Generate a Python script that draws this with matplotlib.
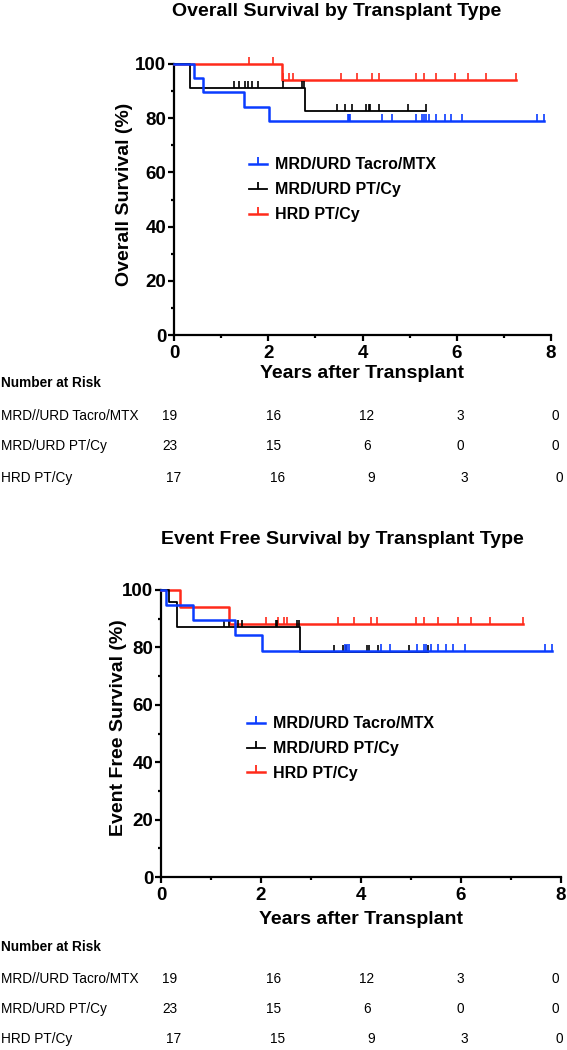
import matplotlib
matplotlib.use("Agg")
import matplotlib.pyplot as plt
from matplotlib.lines import Line2D
from matplotlib.ticker import MultipleLocator
import numpy as np

plt.rcParams['font.family'] = ['Liberation Sans', 'DejaVu Sans']

# ---- data (years, % surviving) ----
groups = ['MRD/URD Tacro/MTX', 'MRD/URD PT/Cy', 'HRD PT/Cy']
risk_labels = ['MRD//URD Tacro/MTX', 'MRD/URD PT/Cy', 'HRD PT/Cy']
colors = ['#0a3cff', '#000000', '#ff2a1a']
risk_times = [0, 2, 4, 6, 8]

# overall survival
os_times = [
    [0, 0.43, 0.61, 1.49, 2.02],
    [0, 0.33, 2.78],
    [0, 2.29],
]
os_surv = [
    [100, 94.7, 89.5, 84.2, 78.9],
    [100, 91.3, 82.6],
    [100, 94.1],
]
os_end = [7.86, 5.35, 7.26]
os_censor = [
    [3.70, 3.72, 3.74, 4.42, 4.62, 5.14, 5.26, 5.30, 5.35, 5.42, 5.56, 5.75, 5.87, 6.11, 7.71, 7.86],
    [1.27, 1.37, 1.51, 1.58, 1.66, 1.78, 2.31, 2.71, 2.76,
     3.46, 3.63, 3.77, 4.08, 4.13, 4.16, 4.35, 4.97, 5.35],
    [1.60, 2.10, 2.32, 2.43, 2.53, 3.55, 3.88, 4.21, 4.34, 5.14, 5.30, 5.56, 5.96, 6.23, 6.62, 7.26],
]
os_risk = [
    [19, 16, 12, 3, 0],
    [23, 15, 6, 0, 0],
    [17, 16, 9, 3, 0],
]

# event free survival
efs_times = [
    [0, 0.10, 0.63, 1.49, 2.03],
    [0, 0.16, 0.31, 2.78],
    [0, 0.37, 1.35],
]
efs_surv = [
    [100, 94.7, 89.5, 84.2, 78.9],
    [100, 95.7, 87.0, 78.3],
    [100, 94.1, 88.2],
]
efs_end = [7.83, 5.35, 7.23]
efs_censor = [
    [3.68, 3.72, 3.77, 4.41, 4.59, 5.13, 5.26, 5.31, 5.41, 5.55, 5.71, 5.85, 6.09, 7.68, 7.83],
    [1.26, 1.35, 1.53, 1.63, 2.29, 2.31, 2.71, 2.76,
     3.45, 3.65, 3.71, 4.11, 4.15, 4.35, 4.97, 5.35],
    [2.10, 2.33, 2.45, 2.53, 3.55, 3.87, 4.20, 4.33, 5.11, 5.27, 5.55, 5.95, 6.21, 6.59, 7.23],
]
efs_risk = [
    [19, 16, 12, 3, 0],
    [23, 15, 6, 0, 0],
    [17, 15, 9, 3, 0],
]

W, H = 567, 1050
fig = plt.figure(figsize=(W / 100, H / 100), dpi=100)


def px(x, y):
    # pixel position -> figure fraction
    return x / W, 1 - y / H


def km_panel(rect, times, surv, ends, cens, ylabel, ylab_x, xlab_y, leg_xy):
    ax = fig.add_axes(rect)
    widths = [1.8, 1.3, 1.8]
    # draw red, black, then blue on top
    for i in [2, 1, 0]:
        t = list(times[i]) + [ends[i]]
        s = list(surv[i]) + [surv[i][-1]]
        ax.step(t, s, where='post', color=colors[i], lw=widths[i],
                clip_on=False, zorder=3 + (2 - i))
        c = np.array(cens[i])
        idx = np.searchsorted(times[i], c, side='right') - 1
        cy = np.array(surv[i])[idx]
        ax.plot(c, cy, linestyle='none', marker=2, ms=5, mew=1.2,
                color=colors[i], clip_on=False, zorder=3 + (2 - i))

    ax.set_xlim(0, 8)
    ax.set_ylim(0, 100)
    ax.xaxis.set_major_locator(MultipleLocator(2))
    ax.xaxis.set_minor_locator(MultipleLocator(1))
    ax.yaxis.set_major_locator(MultipleLocator(20))
    ax.yaxis.set_minor_locator(MultipleLocator(10))
    for side in ['top', 'right']:
        ax.spines[side].set_visible(False)
    for side in ['left', 'bottom']:
        ax.spines[side].set_linewidth(1.6)
    ax.tick_params(which='major', length=4.5, width=1.6)
    ax.tick_params(which='minor', length=2.5, width=1.6)
    ax.tick_params(axis='y', pad=1)
    ax.tick_params(axis='x', pad=3)
    for lab in ax.get_xticklabels() + ax.get_yticklabels():
        lab.set_fontsize(13.5)
        lab.set_fontweight('bold')

    ax.set_ylabel(ylabel, fontsize=14, fontweight='bold')
    ax.yaxis.set_label_coords(ylab_x, 0.52)
    ax.set_xlabel('Years after Transplant', fontsize=14, fontweight='bold')
    ax.xaxis.set_label_coords(0.5, xlab_y)

    handles = [Line2D([], [], color=colors[i], lw=widths[i],
                      marker=2, ms=5, mew=1.3) for i in range(3)]
    ax.legend(handles, groups, loc='upper left', bbox_to_anchor=leg_xy,
              frameon=False, numpoints=1, handlelength=1.1, handletextpad=0.5,
              labelspacing=0.62, borderpad=0, borderaxespad=0,
              prop={'size': 11.5, 'weight': 'bold'})
    return ax


def risk_table(y_head, y_rows, risk):
    fig.text(*px(1, y_head), 'Number at Risk', fontsize=9.8, fontweight='bold',
             va='center', ha='left')
    cols = [170, 274, 367, 460, 555]
    for r in range(3):
        fig.text(*px(1, y_rows[r]), risk_labels[r], fontsize=9.8,
                 va='center', ha='left')
        shift = 4 if r == 2 else 0
        for k in range(len(risk_times)):
            fig.text(*px(cols[k] + shift, y_rows[r]), str(risk[r][k]),
                     fontsize=9.8, va='center', ha='center')


# top panel: overall survival
l, t = px(174, 64)
r, b = px(551, 335)
km_panel([l, b, r - l, t - b], os_times, os_surv, os_end, os_censor,
         'Overall Survival (%)', -0.11, -0.11, (0.20, 0.655))
fig.text(*px(337, 11), 'Overall Survival by Transplant Type', fontsize=14,
         fontweight='bold', ha='center', va='center')
risk_table(383, [416, 446, 478], os_risk)

# bottom panel: event free survival
l, t = px(161, 590)
r, b = px(561, 877)
km_panel([l, b, r - l, t - b], efs_times, efs_surv, efs_end, efs_censor,
         'Event Free Survival (%)', -0.085, -0.12, (0.215, 0.56))
fig.text(*px(342, 540), 'Event Free Survival by Transplant Type', fontsize=14,
         fontweight='bold', ha='center', va='center')
risk_table(947, [979, 1009, 1039], efs_risk)

fig.savefig('out.png', dpi=100)
